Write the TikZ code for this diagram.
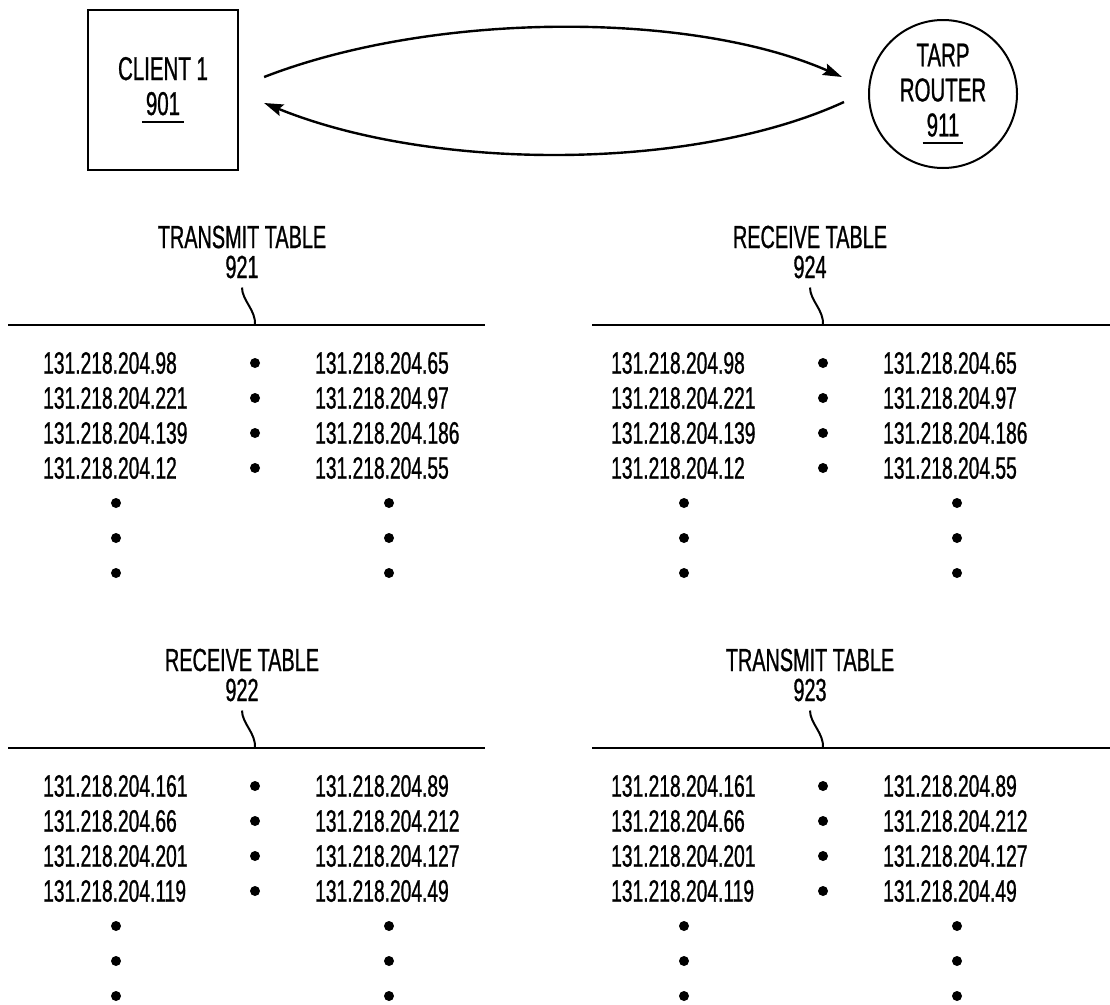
\documentclass[tikz,border=0pt]{standalone}
\usepackage{fontspec}
\setmainfont[FakeStretch=0.62,FakeBold=0.8]{Liberation Sans}
\usetikzlibrary{arrows.meta}
\newsavebox{\refbox}
\newcommand{\refnum}[1]{\sbox{\refbox}{#1}\leavevmode\rlap{\kern-4pt\vrule height -6pt depth 8pt width \dimexpr\wd\refbox+8pt\relax}\usebox{\refbox}}

\begin{document}
\begin{tikzpicture}[
        x=1pt, y=-1pt,
        every node/.style={font=\fontsize{31}{35}\selectfont},
        client/.style={
            draw,
            rectangle,
            line width=2.2pt,
            minimum width=150pt,
            minimum height=160pt,
            align=center,
            font=\fontsize{33}{35}\selectfont
        },
        router/.style={
            draw,
            circle,
            line width=2pt,
            minimum size=148pt,
            inner sep=0pt,
            align=center,
            font=\fontsize{33}{35}\selectfont
        },
        flow/.style={line width=2.4pt, -{Stealth[length=19pt,width=12pt,inset=3pt]}},
        heading/.style={align=center, inner ysep=9pt, font=\fontsize{32}{30}\selectfont},
        rule/.style={line width=2.4pt},
        lead/.style={line width=2pt},
        ip/.style={anchor=west, inner sep=0pt},
        dot/.style={circle, fill=black, minimum size=10pt, inner sep=0pt}
    ]
        \useasboundingbox (0,0) rectangle (1110,1004);

        % Client and router
        \node[client] (client) at (163,90) {CLIENT 1\\\refnum{901}};
        \node[router] (router) at (943,94) {TARP\\ROUTER\\\refnum{911}};

        % Arrows between client and router
        \draw[flow] ([shift={(25pt,13pt)}]client.east) .. controls +(170pt,66pt) and +(-150pt,66pt) .. ([shift={(-26pt,17pt)}]router.west);
        \draw[flow] ([shift={(-24pt,-8pt)}]router.west) .. controls +(-150pt,-69pt) and +(170pt,-69pt) .. ([shift={(25pt,-13pt)}]client.east);

        % Table headings and rules
        \foreach \dx/\dy/\name/\num/\rl/\rr in {0/0/TRANSMIT TABLE/921/8/485, 568/0/RECEIVE TABLE/924/592/1110, 0/423/RECEIVE TABLE/922/8/485, 568/423/TRANSMIT TABLE/923/592/1110} {
            \node[heading] (head\num) at (\dx+242,\dy+252) {\name\\\num};
            \coordinate (rl\num) at (\rl,\dy+325);
            \coordinate (rr\num) at (\rr,\dy+325);
            \coordinate (tip\num) at (\dx+255,\dy+325);
            \draw[rule] (rl\num) -- (rr\num);
            \draw[lead] (head\num.south) .. controls +(0pt,-13pt) and +(1pt,15pt) .. (tip\num);
        }

        % Addresses of tables 921 and 924
        \foreach \dx in {0,568}
            \foreach \a/\b [count=\i] in {98/65, 221/97, 139/186, 12/55} {
                \node[ip] (a\dx-\i) at (\dx+43,328+35*\i) {131.218.204.\a};
                \node[dot] (m\dx-\i) at (\dx+255,328+35*\i) {};
                \node[ip] (b\dx-\i) at (\dx+315,328+35*\i) {131.218.204.\b};
            }

        % Addresses of tables 922 and 923
        \foreach \dx in {0,568}
            \foreach \a/\b [count=\i] in {161/89, 66/212, 201/127, 119/49} {
                \node[ip] (c\dx-\i) at (\dx+43,751+35*\i) {131.218.204.\a};
                \node[dot] (n\dx-\i) at (\dx+255,751+35*\i) {};
                \node[ip] (d\dx-\i) at (\dx+315,751+35*\i) {131.218.204.\b};
            }

        % Continuation dots
        \foreach \dx in {0,568}
            \foreach \dy in {0,423}
                \foreach \k in {0,1,2} {
                    \node[dot] (vl\dx-\dy-\k) at (\dx+116,\dy+503+35*\k) {};
                    \node[dot] (vr\dx-\dy-\k) at (\dx+389,\dy+503+35*\k) {};
                }

    \end{tikzpicture}
\end{document}
